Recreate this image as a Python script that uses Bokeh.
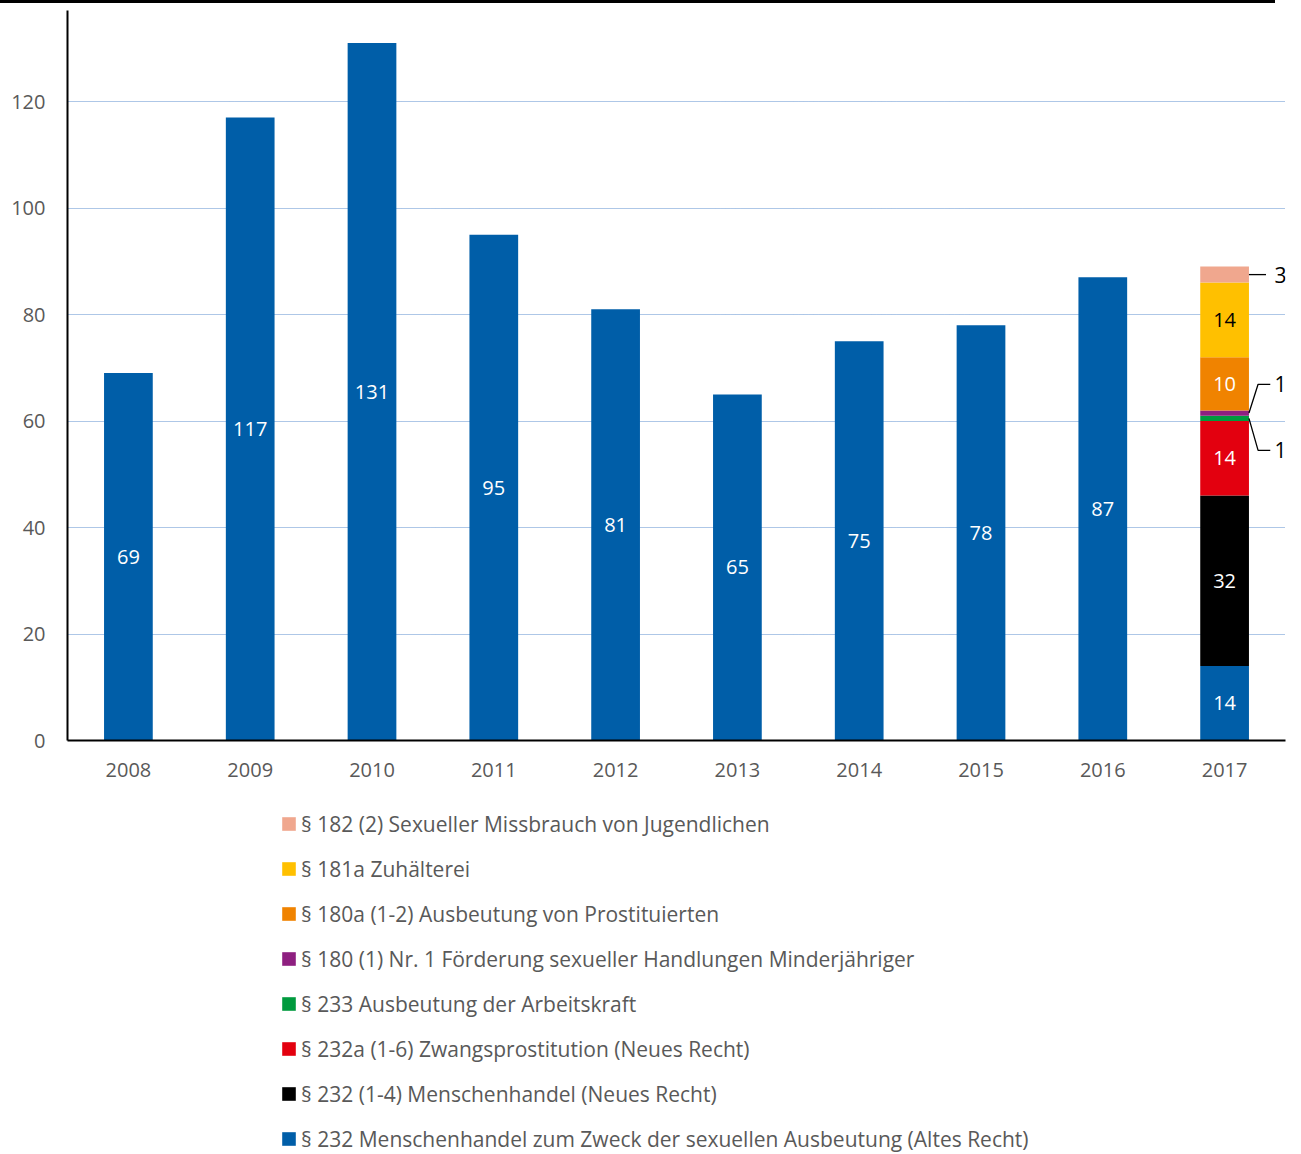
import numpy as np
from bokeh.plotting import figure
from bokeh.models import (ColumnDataSource, Legend, LegendItem, LabelSet, FixedTicker,
                          Div, Range1d)
from bokeh.core.properties import value
from bokeh.layouts import column
from bokeh.embed import file_html
from bokeh.resources import INLINE

years = ["2008", "2009", "2010", "2011", "2012", "2013", "2014", "2015", "2016", "2017"]

s_232_alt = [69, 117, 131, 95, 81, 65, 75, 78, 87, 14]
s_232_neu = [0, 0, 0, 0, 0, 0, 0, 0, 0, 32]
s_232a = [0, 0, 0, 0, 0, 0, 0, 0, 0, 14]
s_233 = [0, 0, 0, 0, 0, 0, 0, 0, 0, 1]
s_180 = [0, 0, 0, 0, 0, 0, 0, 0, 0, 1]
s_180a = [0, 0, 0, 0, 0, 0, 0, 0, 0, 10]
s_181a = [0, 0, 0, 0, 0, 0, 0, 0, 0, 14]
s_182 = [0, 0, 0, 0, 0, 0, 0, 0, 0, 3]

series = [s_232_alt, s_232_neu, s_232a, s_233, s_180, s_180a, s_181a, s_182]
names = [
    "§ 232 Menschenhandel zum Zweck der sexuellen Ausbeutung (Altes Recht)",
    "§ 232 (1-4) Menschenhandel (Neues Recht)",
    "§ 232a (1-6) Zwangsprostitution (Neues Recht)",
    "§ 233 Ausbeutung der Arbeitskraft",
    "§ 180 (1) Nr. 1 Förderung sexueller Handlungen Minderjähriger",
    "§ 180a (1-2) Ausbeutung von Prostituierten",
    "§ 181a Zuhälterei",
    "§ 182 (2) Sexueller Missbrauch von Jugendlichen",
]
colors = ["#005EA8", "#000000", "#E3000F", "#009A3E", "#8E1F80", "#F08300", "#FFC000", "#F0A78E"]
label_colors = ["white", "white", "white", "white", "white", "white", "black", "black"]
# vertical offset of outside labels (for small segments), in data units
outside_dy = {3: -6.0, 4: 5.4, 7: 0.0}

y_ticks = [0, 20, 40, 60, 80, 100, 120]

FONT = "Open Sans"
GREY = "#595959"

xs = np.arange(len(years), dtype=float)
keys = [f"s{i}" for i in range(len(series))]
src = ColumnDataSource(dict(x=xs, **{k: v for k, v in zip(keys, series)}))

p = figure(width=1301, height=787, x_range=Range1d(-0.5, len(years) - 0.5),
           y_range=Range1d(0, 137.1), output_backend="svg", toolbar_location=None,
           min_border_top=7, min_border_left=67, min_border_right=16, min_border_bottom=50)
p.outline_line_color = None
p.background_fill_color = "white"
p.border_fill_color = "white"

renderers = p.vbar_stack(keys, x="x", width=0.4, source=src, color=colors, line_color=None)

# Axes
p.xaxis.ticker = FixedTicker(ticks=list(xs))
p.xaxis.major_label_overrides = {i: y for i, y in enumerate(years)}
p.yaxis.ticker = FixedTicker(ticks=y_ticks)
for ax in (p.xaxis[0], p.yaxis[0]):
    ax.axis_line_color = "black"
    ax.axis_line_width = 2
    ax.major_tick_line_color = None
    ax.minor_tick_line_color = None
    ax.major_tick_out = 0
    ax.major_tick_in = 0
    ax.major_label_text_font = FONT
    ax.major_label_text_font_size = "20px"
    ax.major_label_text_color = GREY
p.yaxis.major_label_standoff = 22
p.xaxis.major_label_standoff = 22

p.xgrid.grid_line_color = None
p.ygrid.ticker = FixedTicker(ticks=y_ticks[1:])
p.ygrid.grid_line_color = "#5D8FCF"
p.ygrid.grid_line_width = 1
p.ygrid.grid_line_dash = "1 1"

# Value labels
in_x, in_y, in_t, in_c = [], [], [], []
out_x, out_y, out_t = [], [], []
lead_xs, lead_ys = [], []
cum = np.zeros(len(years))
for si, vals in enumerate(series):
    for xi, v in enumerate(vals):
        if v <= 0:
            continue
        mid = cum[xi] + v / 2.0
        if v >= 10:
            in_x.append(xs[xi]); in_y.append(mid); in_t.append(str(v)); in_c.append(label_colors[si])
        else:
            dy = outside_dy.get(si, 0.0)
            x0 = xs[xi] + 0.2
            xe = x0 + (0.075 if dy != 0 else 0.0)
            x1 = x0 + (0.175 if dy != 0 else 0.14)
            lead_xs.append([x0, xe, x1]); lead_ys.append([mid, mid + dy, mid + dy])
            out_x.append(xs[xi] + 0.46); out_y.append(mid + dy); out_t.append(str(v))
    cum += np.array(vals, dtype=float)

in_src = ColumnDataSource(dict(x=in_x, y=in_y, t=in_t, c=in_c))
p.add_layout(LabelSet(x="x", y="y", text="t", source=in_src, text_color="c",
                      text_font=value(FONT), text_font_size="20px", text_align="center",
                      text_baseline="middle"))
p.multi_line(xs=lead_xs, ys=lead_ys, line_color="black", line_width=1.3)
out_src = ColumnDataSource(dict(x=out_x, y=out_y, t=out_t))
p.add_layout(LabelSet(x="x", y="y", text="t", source=out_src, text_color="black",
                      text_font=value(FONT), text_font_size="21px", text_align="center",
                      text_baseline="middle"))

# Legend figure (separate panel below the chart); its renderers sit outside the visible range
pl = figure(width=1301, height=364, x_range=Range1d(0, 1), y_range=Range1d(0, 1),
            output_backend="svg", toolbar_location=None, min_border=0,
            x_axis_location=None, y_axis_location=None)
pl.grid.visible = False
pl.outline_line_color = None
leg_src = ColumnDataSource(dict(x=[-10.0], top=[0.0]))
leg_renderers = [pl.vbar(x="x", top="top", width=0.1, source=leg_src, fill_color=c,
                         line_color=None) for c in colors]
items = [LegendItem(label=names[i], renderers=[leg_renderers[i]]) for i in reversed(range(len(series)))]
legend = Legend(items=items, location=(213, 1), orientation="vertical")
legend.label_text_font = FONT
legend.label_text_font_size = "21px"
legend.label_text_color = GREY
legend.glyph_width = 17
legend.glyph_height = 17
legend.label_standoff = 4
legend.label_height = 29
legend.spacing = 16
legend.padding = 0
legend.margin = 0
legend.border_line_color = None
legend.background_fill_alpha = 0
pl.add_layout(legend, "center")

bar = Div(width=1275, height=3, styles={"background-color": "black"}, margin=0)
layout = column(bar, p, pl, spacing=0)

open("out.html", "w").write(file_html(layout, INLINE))
